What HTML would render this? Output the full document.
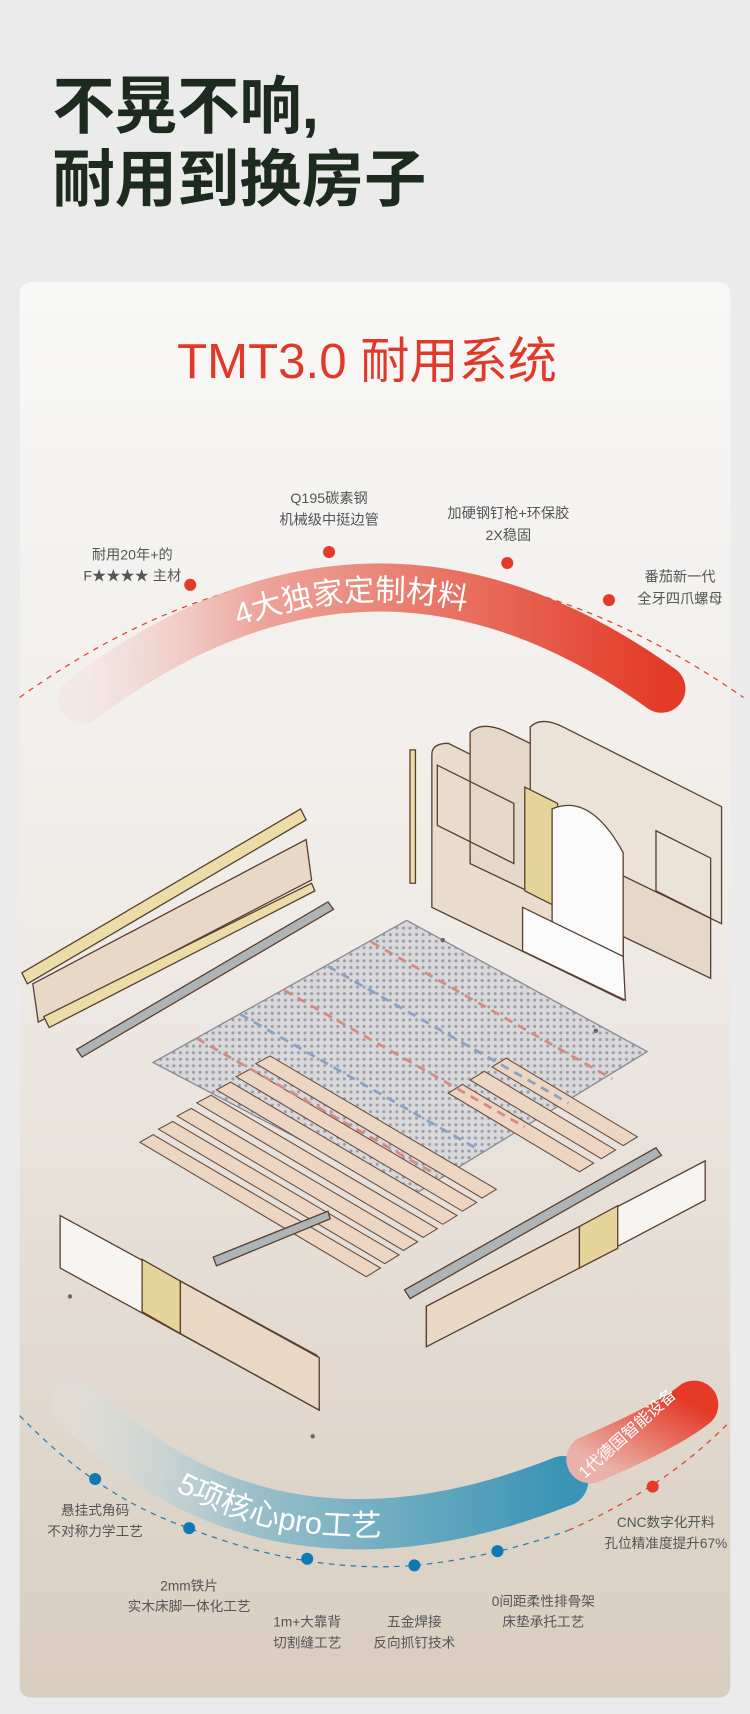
<!DOCTYPE html>
<html><head><meta charset="utf-8">
<style>
html,body{margin:0;padding:0;background:#ebebeb;}
body{width:750px;height:1714px;overflow:hidden;}
svg{display:block}
text{font-family:"Liberation Sans","Noto Sans CJK SC",sans-serif;}
</style></head><body>
<svg width="750" height="1714" viewBox="0 0 686 1568" preserveAspectRatio="none" xmlns="http://www.w3.org/2000/svg">
<defs>
<linearGradient id="card" x1="0" y1="0" x2="0" y2="1">
<stop offset="0" stop-color="#f8f8f7"/><stop offset="0.45" stop-color="#efebe7"/><stop offset="1" stop-color="#d8cdbf"/>
</linearGradient>
<linearGradient id="red" x1="0" y1="0" x2="1" y2="0">
<stop offset="0" stop-color="#f3d8d3" stop-opacity="0.3"/><stop offset="0.3" stop-color="#eda69c"/><stop offset="1" stop-color="#e33b27"/>
</linearGradient>
<linearGradient id="blue" x1="0" y1="0" x2="1" y2="0">
<stop offset="0" stop-color="#dfe4e2" stop-opacity="0.3"/><stop offset="0.35" stop-color="#9cc0cb"/><stop offset="1" stop-color="#3a94b6"/>
</linearGradient>
<linearGradient id="red2" x1="0" y1="1" x2="1" y2="0">
<stop offset="0" stop-color="#eab1a8"/><stop offset="1" stop-color="#e43a26"/>
</linearGradient>
<pattern id="mesh" width="6" height="6" patternUnits="userSpaceOnUse">
<rect width="6" height="6" fill="#d9d9dc"/><circle cx="3" cy="3" r="1.4" fill="#9c9ca6"/>
</pattern>
<path id="tp1" d="M75,652 Q340,452 605,642"/>
<path id="tp2" d="M70,1296 Q250,1471 515,1366"/>
</defs>
<rect width="686" height="1568" fill="#ebebeb"/>
<text x="48" y="117" font-size="57" font-weight="bold" fill="#1d2a1e">不晃不响,</text>
<text x="48" y="184" font-size="57" font-weight="bold" fill="#1d2a1e">耐用到换房子</text>
<rect x="18" y="258" width="650" height="1295" rx="10" fill="url(#card)"/>
<text x="162" y="346" font-size="45" fill="#e0392a">TMT3.0 耐用系统</text>

<!-- top arc -->
<path d="M18,638 Q343,405 680,638" fill="none" stroke="#e33b27" stroke-width="1.1" stroke-dasharray="5,5"/>
<path d="M75,640 Q340,440 605,630" fill="none" stroke="url(#red)" stroke-width="44" stroke-linecap="round"/>
<text font-size="28" fill="#fff"><textPath href="#tp1" startOffset="47%" text-anchor="middle">4大独家定制材料</textPath></text>
<g fill="#e33b27"><circle cx="174" cy="535" r="5.5"/><circle cx="301" cy="505" r="5.5"/><circle cx="464" cy="515" r="5.5"/><circle cx="557" cy="549" r="5.5"/></g>
<g font-size="13" fill="#555" text-anchor="middle">
<text x="121" y="512">耐用20年+的</text><text x="121" y="531">F★★★★ 主材</text>
<text x="301" y="460">Q195碳素钢</text><text x="301" y="480">机械级中挺边管</text>
<text x="465" y="474">加硬钢钉枪+环保胶</text><text x="465" y="494">2X稳固</text>
<text x="622" y="532">番茄新一代</text><text x="622" y="552">全牙四爪螺母</text>
</g>

<!-- bed illustration -->
<g stroke="#5a4030" stroke-width="1.2">
<path d="M395,690 Q395,680 410,680 L570,760 L570,915 L395,830 Z" fill="#e9dccd"/>
<path d="M430,670 Q440,660 460,668 L650,760 L650,895 L430,790 Z" fill="#e6d8c8"/>
<path d="M485,665 Q495,655 515,665 L660,738 L660,845 L485,760 Z" fill="#ece3d8"/>
<path d="M480,720 L510,735 L510,830 L480,815 Z" fill="#e6d49a"/>
<path d="M505,740 Q540,725 570,780 L570,880 L505,850 Z" fill="#fafafa"/>
<path d="M400,700 L470,735 L470,790 L400,755 Z" fill="none"/>
<path d="M600,760 L650,785 L650,840 L600,815 Z" fill="none"/>
<path d="M20,890 L275,740 L280,750 L25,900 Z" fill="#ecdca8"/>
<path d="M30,900 L280,768 L285,805 L35,935 Z" fill="#e9d8c6"/>
<path d="M40,930 L285,808 L288,815 L45,940 Z" fill="#ecdca8"/>
<path d="M70,960 L300,825 L305,832 L75,967 Z" fill="#aeb3b6"/>
<path d="M375,686 L380,686 L380,808 L375,808 Z" fill="#ecdca8"/>
<path d="M140,972 L372,842 L592,962 L375,1095 Z" fill="url(#mesh)" stroke="#8a8a95"/>
<g fill="#ecd6c2" stroke="#6b5040" stroke-width="1">
<path d="M128,1045 L335,1168 L348,1160 L140,1038 Z"/>
<path d="M145,1033 L352,1156 L365,1148 L158,1026 Z"/>
<path d="M162,1021 L369,1144 L382,1136 L175,1014 Z"/>
<path d="M180,1009 L387,1132 L400,1124 L193,1002 Z"/>
<path d="M198,997 L405,1120 L418,1112 L211,990 Z"/>
<path d="M216,985 L423,1108 L436,1100 L229,978 Z"/>
<path d="M234,973 L441,1096 L454,1088 L247,966 Z"/>
<path d="M410,1000 L530,1072 L543,1064 L423,992 Z"/>
<path d="M430,988 L550,1060 L563,1052 L443,980 Z"/>
<path d="M450,976 L570,1048 L583,1040 L463,968 Z"/>
</g>
<g stroke-width="2.5" stroke-dasharray="8,6" fill="none">
<path d="M180,950 L400,1075" stroke="#d98a80"/><path d="M220,928 L440,1053" stroke="#8ba2c6"/>
<path d="M260,906 L480,1031" stroke="#d98a80"/><path d="M300,884 L520,1009" stroke="#8ba2c6"/>
<path d="M340,862 L560,987" stroke="#d98a80"/>
</g>
<path d="M55,1112 L290,1240 L292,1290 L55,1160 Z" fill="#f7f5f2"/>
<path d="M130,1152 L165,1172 L165,1220 L130,1200 Z" fill="#e6d49a"/>
<path d="M165,1172 L292,1242 L292,1290 L165,1220 Z" fill="#ead8c4"/>
<path d="M195,1150 L300,1108 L302,1115 L198,1158 Z" fill="#aeb3b6"/>
<path d="M390,1195 L645,1062 L645,1098 L390,1232 Z" fill="#f7f5f2"/>
<path d="M390,1195 L530,1122 L530,1160 L390,1232 Z" fill="#ead8c4"/>
<path d="M530,1122 L565,1103 L565,1142 L530,1160 Z" fill="#e6d49a"/>
<path d="M370,1180 L600,1050 L605,1057 L375,1188 Z" fill="#aeb3b6"/>
<path d="M478,830 L570,875 L572,915 L478,870 Z" fill="#fafafa"/>
</g>
<g fill="#666"><circle cx="64" cy="1186" r="2"/><circle cx="286" cy="1314" r="2"/><circle cx="405" cy="860" r="2"/><circle cx="545" cy="943" r="2"/></g>

<!-- bottom arc -->
<path d="M18,1295 Q90,1370 173,1398 Q280,1440 380,1432 Q450,1425 520,1400" fill="none" stroke="#1a7fb2" stroke-width="1.1" stroke-dasharray="5,5"/>
<path d="M520,1400 Q610,1360 668,1300" fill="none" stroke="#e33b27" stroke-width="1.1" stroke-dasharray="5,5"/>
<path d="M70,1285 Q250,1460 515,1355" fill="none" stroke="url(#blue)" stroke-width="46" stroke-linecap="round"/>
<path d="M540,1335 Q610,1305 635,1285" fill="none" stroke="url(#red2)" stroke-width="44" stroke-linecap="round"/>
<text font-size="28" fill="#fff"><textPath href="#tp2" startOffset="44%" text-anchor="middle">5项核心pro工艺</textPath></text>
<text font-size="15" fill="#fff" transform="translate(535,1353) rotate(-42)">1代德国智能设备</text>
<g fill="#0f79b3"><circle cx="87" cy="1353" r="5.5"/><circle cx="173" cy="1398" r="5.5"/><circle cx="281" cy="1426" r="5.5"/><circle cx="379" cy="1432" r="5.5"/><circle cx="455" cy="1419" r="5.5"/></g>
<circle cx="597" cy="1360" r="5.5" fill="#e33b27"/>
<g font-size="12.5" fill="#555" text-anchor="middle">
<text x="87" y="1386">悬挂式角码</text><text x="87" y="1405">不对称力学工艺</text>
<text x="173" y="1455">2mm铁片</text><text x="173" y="1474">实木床脚一体化工艺</text>
<text x="281" y="1488">1m+大靠背</text><text x="281" y="1507">切割缝工艺</text>
<text x="379" y="1488">五金焊接</text><text x="379" y="1507">反向抓钉技术</text>
<text x="497" y="1469">0间距柔性排骨架</text><text x="497" y="1488">床垫承托工艺</text>
<text x="609" y="1397">CNC数字化开料</text><text x="609" y="1416">孔位精准度提升67%</text>
</g>
</svg>
</body></html>
